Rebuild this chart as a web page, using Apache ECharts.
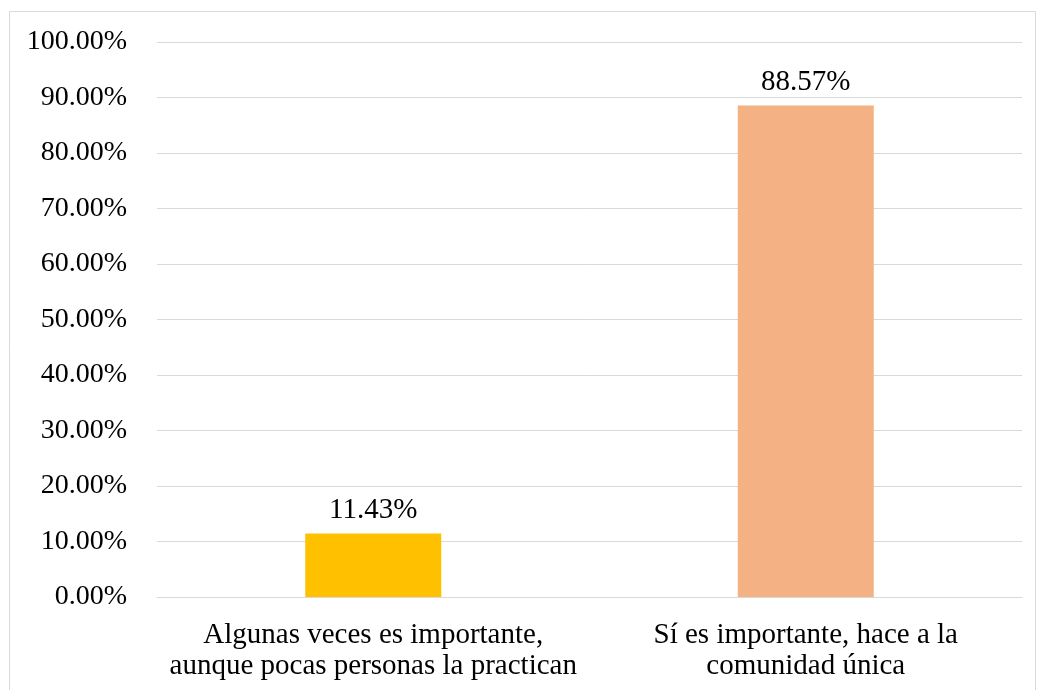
<!DOCTYPE html>
<html>
<head>
<meta charset="utf-8">
<script src="https://cdn.jsdelivr.net/npm/echarts@6/dist/echarts.min.js"></script>
<style>
html, body { margin: 0; padding: 0; background: #fff; }
#chart { width: 1039px; height: 690px; }
</style>
</head>
<body>
<div id="chart"></div>
<script>
const categories = ['Algunas veces es importante,\naunque pocas personas la practican', 'Sí es importante, hace a la\ncomunidad única']
const values = [11.43, 88.57]
const barColors = ['#FFC000', '#F4B183']

const chart = echarts.init(document.getElementById('chart'))
const font = '"Liberation Serif", "Times New Roman", serif'

chart.setOption({
    animation: false,
    graphic: [{
        type: 'rect',
        shape: { x: 9.5, y: 11.5, width: 1026, height: 700 },
        style: { fill: 'none', stroke: '#d9d9d9', lineWidth: 1 }
    }],
    grid: { left: 157, right: 17, top: 42, bottom: 93 },
    xAxis: {
        type: 'category',
        data: categories,
        axisLine: { lineStyle: { color: '#d9d9d9', width: 1 } },
        axisTick: { show: false },
        axisLabel: {
            color: '#000', fontFamily: font, fontSize: 29, lineHeight: 31, margin: 23,
            interval: 0, hideOverlap: false
        }
    },
    yAxis: {
        type: 'value',
        min: 0,
        max: 100,
        interval: 10,
        axisLine: { show: false },
        axisTick: { show: false },
        splitLine: { lineStyle: { color: '#d9d9d9', width: 1 } },
        axisLabel: {
            color: '#000', fontFamily: font, fontSize: 28, margin: 30,
            formatter: v => v.toFixed(2) + '%'
        }
    },
    series: [{
        type: 'bar',
        barWidth: 136,
        data: values.map((v, i) => ({ value: v, itemStyle: { color: barColors[i] } })),
        label: {
            show: true,
            position: 'top',
            distance: 9,
            color: '#000',
            fontFamily: font,
            fontSize: 29,
            formatter: p => p.value.toFixed(2) + '%'
        }
    }]
})
</script>
</body>
</html>
